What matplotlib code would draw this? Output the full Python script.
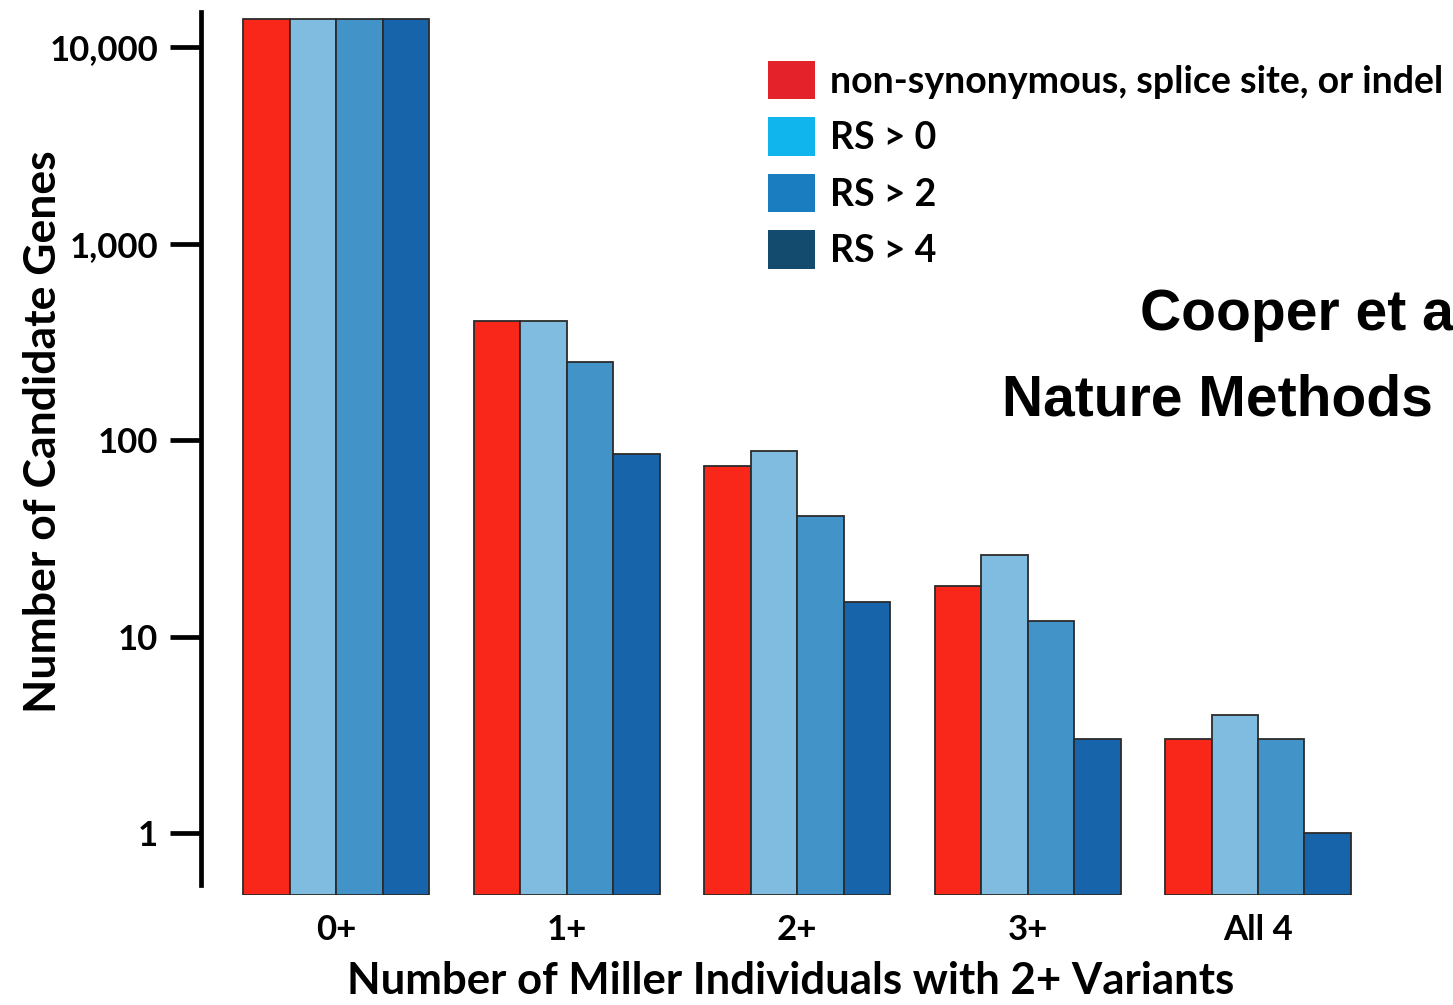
import matplotlib
matplotlib.use("Agg")
import matplotlib.pyplot as plt
from matplotlib.patches import Patch
import numpy as np

# data (log scale)
groups = ["0+", "1+", "2+", "3+", "All 4"]
series = ["non-synonymous, splice site, or indel", "RS > 0", "RS > 2", "RS > 4"]
nonsyn = [13900, 402, 74, 18, 3]
rs0 = [13900, 402, 88, 26, 4]
rs2 = [13900, 249, 41, 12, 3]
rs4 = [13900, 85, 15, 3, 1]
values = [nonsyn, rs0, rs2, rs4]

bar_colors = ["#F8271A", "#7FBCDF", "#4193C8", "#1764AB"]
legend_colors = ["#E42229", "#10B5EE", "#1A7DBF", "#134B6F"]

ytick_vals = [1, 10, 100, 1000, 10000]
ytick_labels = ["1", "10", "100", "1,000", "10,000"]

plt.rcParams["font.family"] = ["Lato", "DejaVu Sans"]
plt.rcParams["font.weight"] = "bold"
plt.rcParams["axes.labelweight"] = "bold"

W, H = 1453, 1005
fig = plt.figure(figsize=(W / 100, H / 100), dpi=100)
ax = fig.add_axes([201 / W, 1 - 895 / H, 1 - 201 / W, (895 - 8) / H])

ax.set_yscale("log")
y_lo, y_hi = 0.4843, 15800
ax.set_ylim(y_lo, y_hi)
ax.set_xlim(-0.586, 4.846)

x = np.arange(len(groups))
w = 0.2017
for j, (vals, col) in enumerate(zip(values, bar_colors)):
    ax.bar(x + (j - 1.5) * w, np.array(vals) - y_lo, width=w, bottom=y_lo, color=col,
           edgecolor="#2b2b2b", linewidth=1.3, zorder=2)

for s in ["top", "right", "bottom"]:
    ax.spines[s].set_visible(False)
ax.spines["left"].set_linewidth(3.4)
ax.spines["left"].set_bounds(0.5445, 15126)

ax.set_yticks(ytick_vals)
ax.set_yticklabels(ytick_labels)
ax.yaxis.set_minor_locator(matplotlib.ticker.NullLocator())
ax.tick_params(axis="y", length=22, width=3.4, pad=9, labelsize=25)
ax.set_xticks(x)
ax.set_xticklabels(groups)
ax.tick_params(axis="x", length=0, pad=14, labelsize=25)

ax.set_ylabel("Number of Candidate Genes", fontsize=32)
ax.yaxis.set_label_coords(-0.11, 0.522)
ax.set_xlabel("Number of Miller Individuals with 2+ Variants", fontsize=31.5)
ax.xaxis.set_label_coords(0.471, -0.074)

handles = [Patch(facecolor=c, edgecolor="none") for c in legend_colors]
fig.legend(handles, series, loc="upper left", bbox_to_anchor=(768 / W, 1 - 61 / H),
           frameon=False, borderpad=0, borderaxespad=0, fontsize=27,
           handlelength=1.25, handleheight=1.2, handletextpad=0.4, labelspacing=0.48)

fig.text(1140 / W, 1 - 330 / H, "Cooper et al.", fontsize=41, fontweight="bold",
         family="Liberation Sans")
fig.text(1002 / W, 1 - 415 / H, "Nature Methods", fontsize=41, fontweight="bold",
         family="Liberation Sans")

fig.savefig("out.png", dpi=100)
